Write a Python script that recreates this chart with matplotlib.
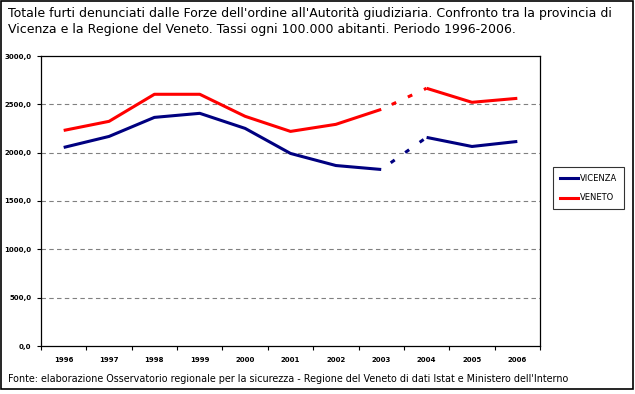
import matplotlib
matplotlib.use('Agg')
import matplotlib.pyplot as plt
from matplotlib.patches import Rectangle
from matplotlib.lines import Line2D

years = ['1996', '1997', '1998', '1999', '2000', '2001', '2002', '2003', '2004', '2005', '2006']
vicenza = [2054, 2168, 2365, 2407, 2251, 1992, 1867, 1826, 2158, 2064, 2116]
veneto = [2230, 2324, 2604, 2604, 2376, 2220, 2293, 2448, 2666, 2521, 2562]
yticks = [0, 500, 1000, 1500, 2000, 2500, 3000]
ylabels = ['0,0', '500,0', '1000,0', '1500,0', '2000,0', '2500,0', '3000,0']

blue = '#000080'
red = '#ff0000'

fig = plt.figure(figsize=(6.35, 3.94), dpi=100)
ax = fig.add_axes([41 / 635, 48 / 394, 499 / 635, 290 / 394])

x = list(range(len(years)))
gap = years.index('2003')

# solid before and after the break, dotted across 2003-2004
for vals, col in [(vicenza, blue), (veneto, red)]:
    ax.plot(x[:gap + 1], vals[:gap + 1], color=col, lw=2.2, solid_capstyle='butt')
    ax.plot(x[gap + 1:], vals[gap + 1:], color=col, lw=2.2, solid_capstyle='butt')
    ax.plot(x[gap:gap + 2], vals[gap:gap + 2], color=col, lw=2.2,
            linestyle=(2, (1.6, 4.2)))

ax.set_xlim(-0.5, len(years) - 0.5)
ax.set_ylim(0, 3000)
ax.set_yticks(yticks)
ax.set_yticklabels(ylabels, fontsize=5, fontweight='bold')
ax.set_xticks([i - 0.5 for i in range(len(years) + 1)])
ax.set_xticklabels([])
ax.set_xticks(x, minor=True)
ax.set_xticklabels(years, minor=True, fontsize=5, fontweight='bold')
ax.tick_params(axis='x', which='minor', length=0, pad=8)
ax.tick_params(axis='x', which='major', length=3, width=0.8)
ax.tick_params(axis='y', length=3, width=0.8, pad=4)

for yv in yticks[1:-1]:
    ax.axhline(yv, color='#808080', lw=0.8, ls=(0, (4, 3)), zorder=0)
for s in ax.spines.values():
    s.set_linewidth(0.9)

handles = [Line2D([], [], color=blue, lw=2.2), Line2D([], [], color=red, lw=2.2)]
leg = fig.legend(handles, ['VICENZA', 'VENETO'], loc='center left',
                 bbox_to_anchor=(549 / 635, 1 - 188 / 394), fontsize=6,
                 frameon=True, fancybox=False, edgecolor='black',
                 handlelength=2.2, handletextpad=0.2, labelspacing=1.3,
                 borderpad=0.8)
leg.get_frame().set_linewidth(0.8)

fig.text(8 / 635, 1 - 14 / 394,
         "Totale furti denunciati dalle Forze dell'ordine all'Autorità giudiziaria. Confronto tra la provincia di",
         fontsize=9.0, va='center')
fig.text(8 / 635, 1 - 30 / 394,
         "Vicenza e la Regione del Veneto. Tassi ogni 100.000 abitanti. Periodo 1996-2006.",
         fontsize=9.0, va='center')
fig.text(8 / 635, 1 - 379 / 394,
         "Fonte: elaborazione Osservatorio regionale per la sicurezza - Regione del Veneto di dati Istat e Ministero dell'Interno",
         fontsize=6.9, va='center')

fig.patches.append(Rectangle((1 / 635, 5 / 394), 632 / 635, 388 / 394,
                             transform=fig.transFigure, fill=False,
                             edgecolor='black', lw=1.2))

fig.savefig('out.png', dpi=100)
